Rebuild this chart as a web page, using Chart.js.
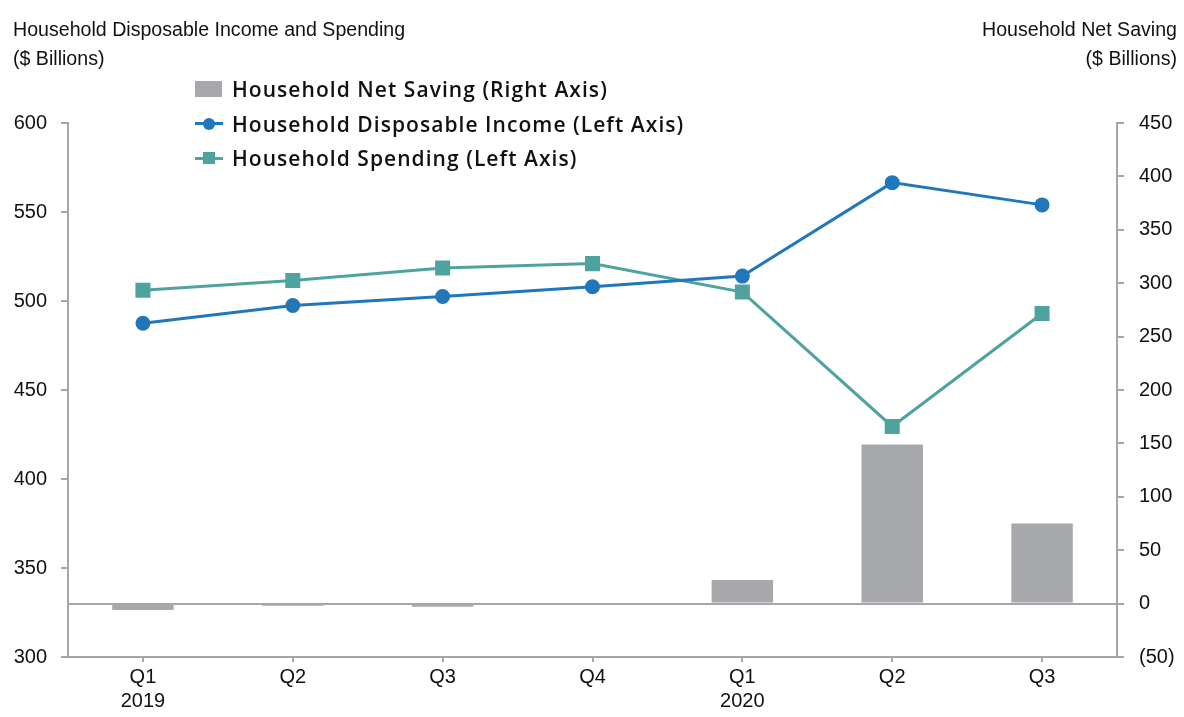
<!DOCTYPE html>
<html lang="en">
<head>
  <meta charset="UTF-8" />
  <title>Household Income, Spending and Net Saving</title>
  <script src="https://cdn.jsdelivr.net/npm/chart.js"></script>
  <style>
    body {
      margin: 0;
      background: #fff;
      font-family: "Liberation Sans", Arial, sans-serif;
      color: #111;
    }
    .wrap {
      position: relative;
      width: 1184px;
      height: 717px;
    }
    .axis-title {
      position: absolute;
      top: 15px;
      font-size: 19.6px;
      line-height: 29px;
    }
    .axis-title.left { left: 13px; }
    .axis-title.right { right: 7px; text-align: right; }
    .legend {
      position: absolute;
      left: 195px;
      top: 72px;
      font-family: "Open Sans", "Noto Sans", sans-serif;
      font-weight: 600;
      font-size: 21px;
      letter-spacing: 1.05px;
      color: #111;
    }
    .legend div {
      height: 34.5px;
      display: flex;
      align-items: center;
    }
    .icon {
      position: relative;
      width: 28px;
      height: 16px;
      margin-right: 9px;
    }
    .icon.bar { background: #a7a8ab; width: 27px; margin-right: 10px; }
    .icon .ln {
      position: absolute; left: 0; right: 0; top: 6.5px; height: 3px;
    }
    .icon .mk {
      position: absolute; left: 8px; top: 2px; width: 12px; height: 12px;
    }
  </style>
</head>
<body>
  <div class="wrap">
    <canvas id="chart" width="1184" height="717"></canvas>
    <div class="axis-title left">Household Disposable Income and Spending<br>($ Billions)</div>
    <div class="axis-title right">Household Net Saving<br>($ Billions)</div>
    <div class="legend">
      <div><span class="icon bar"></span>Household Net Saving (Right Axis)</div>
      <div><span class="icon"><span class="ln" style="background:#2277bb"></span><span class="mk" style="background:#2277bb;border-radius:50%"></span></span>Household Disposable Income (Left Axis)</div>
      <div><span class="icon"><span class="ln" style="background:#4ea39e"></span><span class="mk" style="background:#4ea39e"></span></span>Household Spending (Left Axis)</div>
    </div>
  </div>
  <script>
    const quarters = [["Q1", "2019"], ["Q2"], ["Q3"], ["Q4"], ["Q1", "2020"], ["Q2"], ["Q3"]];
    const netSaving = [-6, -2, -3, -0.6, 22, 149, 75];
    const income = [487.5, 497.5, 502.5, 508, 514, 566.5, 554];
    const spending = [506, 511.5, 518.5, 521, 505, 429.5, 493];

    const axisGray = "#a6a6a6";
    const tickFont = { family: "'Liberation Sans', Arial, sans-serif", size: 20 };

    new Chart(document.getElementById("chart"), {
      type: "bar",
      data: {
        labels: quarters,
        datasets: [
          {
            type: "line",
            label: "Household Disposable Income (Left Axis)",
            data: income,
            yAxisID: "y",
            borderColor: "#2277bb",
            backgroundColor: "#2277bb",
            borderWidth: 3,
            pointRadius: 6,
            pointStyle: "circle",
            tension: 0,
            order: 0
          },
          {
            type: "line",
            label: "Household Spending (Left Axis)",
            data: spending,
            yAxisID: "y",
            borderColor: "#4ea39e",
            backgroundColor: "#4ea39e",
            borderWidth: 3,
            pointRadius: 8.5,
            pointStyle: "rect",
            tension: 0,
            order: 1
          },
          {
            label: "Household Net Saving (Right Axis)",
            data: netSaving,
            yAxisID: "y1",
            backgroundColor: "#a7a8ab",
            barPercentage: 0.41,
            categoryPercentage: 1,
            order: 2
          }
        ]
      },
      options: {
        responsive: false,
        animation: false,
        layout: { padding: { top: 123, left: 0, right: 0, bottom: 0 } },
        plugins: {
          legend: { display: false },
          tooltip: { enabled: false }
        },
        scales: {
          x: {
            offset: true,
            grid: { display: true, drawOnChartArea: false, offset: false, color: axisGray, tickLength: 5, lineWidth: 2 },
            border: { color: axisGray, width: 2 },
            ticks: { font: tickFont, color: "#111", padding: 3, maxRotation: 0, autoSkip: false },
            afterFit: (s) => { s.height = 60; }
          },
          y: {
            position: "left",
            min: 300,
            max: 600,
            ticks: { stepSize: 50, font: tickFont, color: "#111", padding: 14 },
            grid: { drawOnChartArea: false, color: axisGray, tickLength: 7, lineWidth: 2 },
            border: { color: axisGray, width: 2 },
            afterFit: (s) => { s.width = 68; }
          },
          y1: {
            position: "right",
            min: -50,
            max: 450,
            ticks: {
              stepSize: 50,
              font: tickFont,
              color: "#111",
              padding: 15,
              callback: (v) => (v < 0 ? "(" + (-v) + ")" : v)
            },
            grid: {
              drawOnChartArea: true,
              color: (c) => (c.tick && c.tick.value === 0 ? axisGray : "rgba(0,0,0,0)"),
              tickColor: axisGray,
              tickLength: 7,
              lineWidth: 2
            },
            border: { color: axisGray, width: 2 },
            afterFit: (s) => { s.width = 67; }
          }
        }
      }
    });
  </script>
</body>
</html>
